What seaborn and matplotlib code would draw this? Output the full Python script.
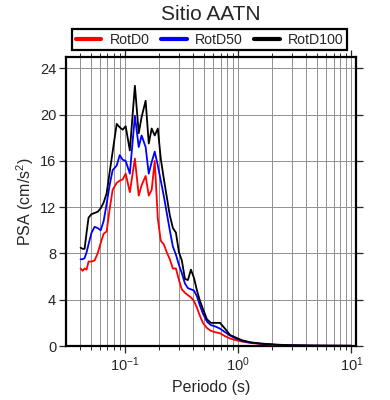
import numpy as np
import pandas as pd
import matplotlib
matplotlib.use("Agg")
import matplotlib.pyplot as plt
from matplotlib.ticker import LogLocator, FixedLocator, NullFormatter
import seaborn as sns

periods = [0.0408, 0.0425, 0.0443, 0.0461, 0.0480, 0.0510, 0.0543, 0.0577, 0.0614, 0.0652,
           0.0693, 0.0736, 0.0783, 0.0850, 0.0904, 0.0960, 0.102, 0.111, 0.123, 0.133,
           0.141, 0.153, 0.163, 0.173, 0.184, 0.196, 0.208, 0.221, 0.235, 0.250,
           0.266, 0.283, 0.301, 0.319, 0.340, 0.361, 0.384, 0.408, 0.434, 0.461,
           0.490, 0.532, 0.577, 0.626, 0.693, 0.767, 0.850, 0.960, 1.08, 1.28,
           1.57, 2.13, 2.89, 4.34, 6.52, 10.0]

rotd100 = [8.5, 8.4, 8.4, 9.8, 11.1, 11.4, 11.5, 11.6, 11.9, 12.4,
           13.2, 15.0, 16.8, 19.2, 18.9, 18.7, 19.0, 16.9, 22.5, 18.4,
           19.8, 21.2, 17.5, 18.8, 18.2, 18.8, 16.2, 14.5, 12.9, 11.3,
           10.2, 9.8, 8.1, 7.4, 5.8, 5.7, 6.6, 5.9, 4.8, 3.9,
           3.2, 2.3, 2.0, 2.0, 2.0, 1.5, 0.95, 0.72, 0.5, 0.32,
           0.22, 0.12, 0.07, 0.04, 0.03, 0.02]

rotd50 = [7.5, 7.5, 7.6, 8.1, 8.8, 9.8, 10.3, 10.2, 10.0, 10.8,
          12.3, 13.9, 15.2, 15.6, 16.5, 16.1, 16.0, 14.9, 19.9, 17.2,
          18.2, 17.2, 14.9, 15.9, 16.8, 15.6, 14.3, 13.0, 11.5, 10.0,
          8.6, 7.9, 7.0, 6.3, 5.4, 5.0, 4.9, 4.8, 4.3, 3.5,
          2.8, 2.1, 1.8, 1.7, 1.5, 1.2, 0.9, 0.65, 0.45, 0.3,
          0.2, 0.11, 0.06, 0.035, 0.025, 0.02]

rotd0 = [6.7, 6.5, 6.7, 6.6, 7.3, 7.3, 7.4, 8.0, 8.9, 9.7,
         9.9, 11.8, 13.5, 14.1, 14.3, 14.4, 14.9, 13.3, 16.2, 13.0,
         13.9, 14.7, 13.0, 13.5, 16.0, 11.0, 9.1, 8.8, 8.1, 7.5,
         6.7, 6.7, 5.7, 4.9, 4.6, 4.4, 4.2, 3.9, 3.3, 2.6,
         2.0, 1.55, 1.3, 1.2, 1.1, 0.85, 0.65, 0.5, 0.38, 0.27,
         0.18, 0.1, 0.06, 0.03, 0.02, 0.015]

series_names = ["RotD0", "RotD50", "RotD100"]
series_colors = ["#ff0000", "#0000ff", "#000000"]
y_ticks = [0, 4, 8, 12, 16, 20, 24]

df = pd.concat([
    pd.DataFrame({"Periodo": periods, "PSA": vals, "Comp": name})
    for name, vals in zip(series_names, [rotd0, rotd50, rotd100])
], ignore_index=True)

sns.set_style("ticks")
plt.rcParams["font.family"] = ["Liberation Sans", "DejaVu Sans"]
plt.rcParams["mathtext.fontset"] = "custom"
plt.rcParams["mathtext.rm"] = "Liberation Sans"
plt.rcParams["mathtext.it"] = "Liberation Sans"

fig = plt.figure(figsize=(3.9, 4.0), dpi=100)
ax = fig.add_axes([0.169, 0.135, 0.743, 0.723])

sns.lineplot(data=df, x="Periodo", y="PSA", hue="Comp", hue_order=series_names,
             palette=series_colors, linewidth=1.3, ax=ax, legend=False, zorder=3)

ax.set_xscale("log")
ax.set_xlim(0.0303, 10.9)
ax.set_ylim(0, 25)

ax.xaxis.set_major_locator(LogLocator(base=10, numticks=10))
ax.xaxis.set_minor_locator(LogLocator(base=10, subs=np.arange(2, 10), numticks=20))
ax.xaxis.set_minor_formatter(NullFormatter())
ax.yaxis.set_major_locator(FixedLocator(y_ticks))
ax.set_yticklabels([str(v) for v in y_ticks])

ax.grid(True, which="major", axis="both", color="#909090", linewidth=0.7)
ax.grid(True, which="minor", axis="x", color="#909090", linewidth=0.7)
ax.set_axisbelow(True)

for s in ax.spines.values():
    s.set_linewidth(1.6)
    s.set_color("black")

ax.tick_params(which="major", direction="out", length=5, width=0.9, top=True, right=True,
               labelsize=10.5, pad=2)
ax.tick_params(which="minor", direction="out", length=3, width=0.7, top=True, right=True)

ax.set_xlabel("Periodo (s)", fontsize=11.5, labelpad=4)
ax.set_ylabel("PSA (cm/s$^2$)", fontsize=11.5, labelpad=3)
fig.text(0.541, 0.963, "Sitio AATN", ha="center", va="center", fontsize=15)

handles = [plt.Line2D([], [], color=c, linewidth=3) for c in series_colors]
leg = ax.legend(handles, series_names, ncol=3, loc="lower center",
                bbox_to_anchor=(0.497, 1.023), frameon=True, fancybox=False,
                edgecolor="black", fontsize=10.2, handlelength=1.8,
                columnspacing=0.8, handletextpad=0.6, borderpad=0.25,
                borderaxespad=0)
leg.get_frame().set_linewidth(1.6)
leg.get_frame().set_alpha(1)

fig.savefig("out.png", dpi=100)
